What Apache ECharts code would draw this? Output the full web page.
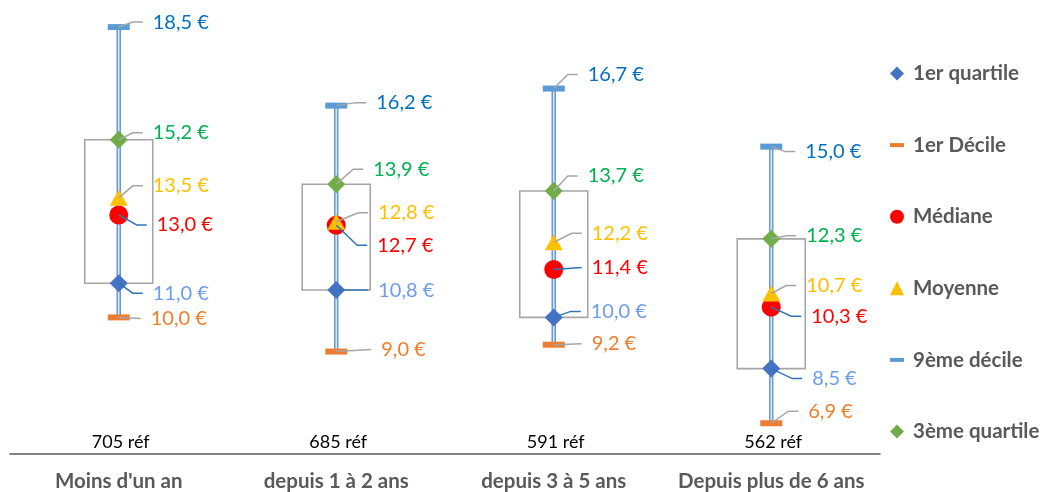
<!DOCTYPE html>
<html><head><meta charset="utf-8">
<script src="https://cdn.jsdelivr.net/npm/echarts@6/dist/echarts.min.js"></script>
<style>html,body{margin:0;padding:0;background:#fff}#c{width:1044px;height:492px}</style>
</head><body><div id="c"></div>
<script>
// ---- data ----
const categories = ["Moins d'un an", "depuis 1 à 2 ans", "depuis 3 à 5 ans", "Depuis plus de 6 ans"];
const refCounts = ["705 réf", "685 réf", "591 réf", "562 réf"];
const q1 = [11.0, 10.8, 10.0, 8.5];
const decile1 = [10.0, 9.0, 9.2, 6.9];
const mediane = [13.0, 12.7, 11.4, 10.3];
const moyenne = [13.5, 12.8, 12.2, 10.7];
const decile9 = [18.5, 16.2, 16.7, 15.0];
const q3 = [15.2, 13.9, 13.7, 12.3];

// ---- layout of the value labels (pixel offsets from the marker) ----
const labelDx = {
  d9: [34, 40, 34, 34], q3: [34, 37, 34, 35], moy: [34, 42, 38, 35],
  med: [38, 41, 38, 40], q1: [34, 42, 37, 41], d1: [32, 45, 38, 37]
};
const labelDy = {
  d9: [-5, -3, -14, 5], q3: [-7, -15, -15, -3], moy: [-12, -9, -9, -8],
  med: [10, 20, -2, 9], q1: [10, 0, -6, 10], d1: [1, -2, -1, -12]
};

const FONT = 'Lato';
const stats = [
  {key: 'q1', name: '1er quartile', data: q1, symbol: 'diamond', size: [18, 18], color: '#4472C4', label: '#6D9EEB', lead: '#2E75B6', z: 3},
  {key: 'd1', name: '1er Décile', data: decile1, symbol: 'rect', size: [22, 6], color: '#ED7D31', label: '#F07D2C', lead: '#A6A6A6', z: 3},
  {key: 'med', name: 'Médiane', data: mediane, symbol: 'circle', size: [19, 19], color: '#FF0000', label: '#FF0000', lead: '#2E75B6', z: 3},
  {key: 'moy', name: 'Moyenne', data: moyenne, symbol: 'triangle', size: [18, 16], color: '#FFC000', label: '#FFC000', lead: '#A6A6A6', z: 4},
  {key: 'd9', name: '9ème décile', data: decile9, symbol: 'rect', size: [22, 6], color: '#5B9BD5', label: '#0070C0', lead: '#A6A6A6', z: 3},
  {key: 'q3', name: '3ème quartile', data: q3, symbol: 'diamond', size: [18, 18], color: '#70AD47', label: '#00B050', lead: '#A6A6A6', z: 3}
];
const legendIcons = {
  'q1': 'diamond', 'd1': 'path://M0,0H14V4H0Z', 'med': 'circle',
  'moy': 'triangle', 'd9': 'path://M0,0H14V4H0Z', 'q3': 'diamond'
};
const fmt = v => v.toFixed(1).replace('.', ',') + ' €';

const chart = echarts.init(document.getElementById('c'));

const series = [];
// box + whisker + counts
series.push({
  type: 'custom', z: 1, silent: true,
  data: categories.map((c, i) => [i]),
  renderItem(params, api) {
    const i = api.value(0);
    const cx = api.coord([i, q1[i]])[0];
    const yOf = v => api.coord([i, v])[1];
    const yTop = yOf(q3[i]), yBot = yOf(q1[i]);
    return {type: 'group', children: [
      {type: 'rect', shape: {x: cx - 34, y: yTop, width: 68, height: yBot - yTop},
       style: {fill: 'none', stroke: '#A6A6A6', lineWidth: 1.6}},
      {type: 'line', shape: {x1: cx, y1: yOf(decile1[i]), x2: cx, y2: yOf(decile9[i])},
       style: {stroke: '#6A9BD6', lineWidth: 4.5}},
      {type: 'line', shape: {x1: cx, y1: yOf(decile1[i]), x2: cx, y2: yOf(decile9[i])},
       style: {stroke: '#E4EDF8', lineWidth: 1.4}},
      {type: 'text', style: {text: refCounts[i], x: cx + 2, y: yOf(6) - 12, align: 'center', verticalAlign: 'middle',
        font: '18px ' + FONT, fill: '#000000'}}
    ]};
  }
});
// markers
stats.forEach(s => {
  series.push({
    name: s.name, type: 'scatter', z: s.z,
    symbol: s.symbol, symbolSize: s.size,
    itemStyle: {color: s.color, opacity: 1},
    data: s.data.map((v, i) => [i, v])
  });
});
// leader lines + value labels
series.push({
  type: 'custom', z: 6, silent: true,
  data: categories.map((c, i) => [i]),
  renderItem(params, api) {
    const i = api.value(0);
    const children = [];
    stats.forEach(s => {
      const p = api.coord([i, s.data[i]]);
      const dx = labelDx[s.key][i], dy = labelDy[s.key][i];
      const pts = Math.abs(dy) <= 2
        ? [[p[0], p[1]], [p[0] + dx - 10, p[1] + dy]]
        : [[p[0], p[1]], [p[0] + dx - 20, p[1] + dy], [p[0] + dx - 10, p[1] + dy]];
      children.push({type: 'polyline', shape: {points: pts},
        style: {stroke: s.lead, lineWidth: 1.5, fill: null}});
      children.push({type: 'text', style: {text: fmt(s.data[i]), x: p[0] + dx, y: p[1] + dy,
        align: 'left', verticalAlign: 'middle', font: '20px ' + FONT, fill: s.label}});
    });
    return {type: 'group', children};
  }
});

chart.setOption({
  animation: false,
  backgroundColor: '#ffffff',
  grid: {left: 10, right: 164, top: 10, bottom: 36},
  xAxis: {
    type: 'category', data: categories, boundaryGap: true,
    axisLine: {lineStyle: {color: '#595959', width: 1.6}},
    axisTick: {show: false},
    axisLabel: {color: '#595959', fontFamily: FONT, fontWeight: 'bold', fontSize: 20.5, margin: 17,
      interval: 0, hideOverlap: false}
  },
  yAxis: {
    type: 'value', min: 6, max: 19, show: false,
    splitLine: {show: false}
  },
  legend: {
    orient: 'vertical', left: 885, top: 58,
    itemWidth: 14, itemHeight: 14, itemGap: 50.6,
    textStyle: {color: '#595959', fontFamily: FONT, fontWeight: 'bold', fontSize: 20.5, lineHeight: 20, padding: [0, 0, 0, 4]},
    data: stats.map(s => ({name: s.name, icon: legendIcons[s.key]}))
  },
  series
});
</script></body></html>
